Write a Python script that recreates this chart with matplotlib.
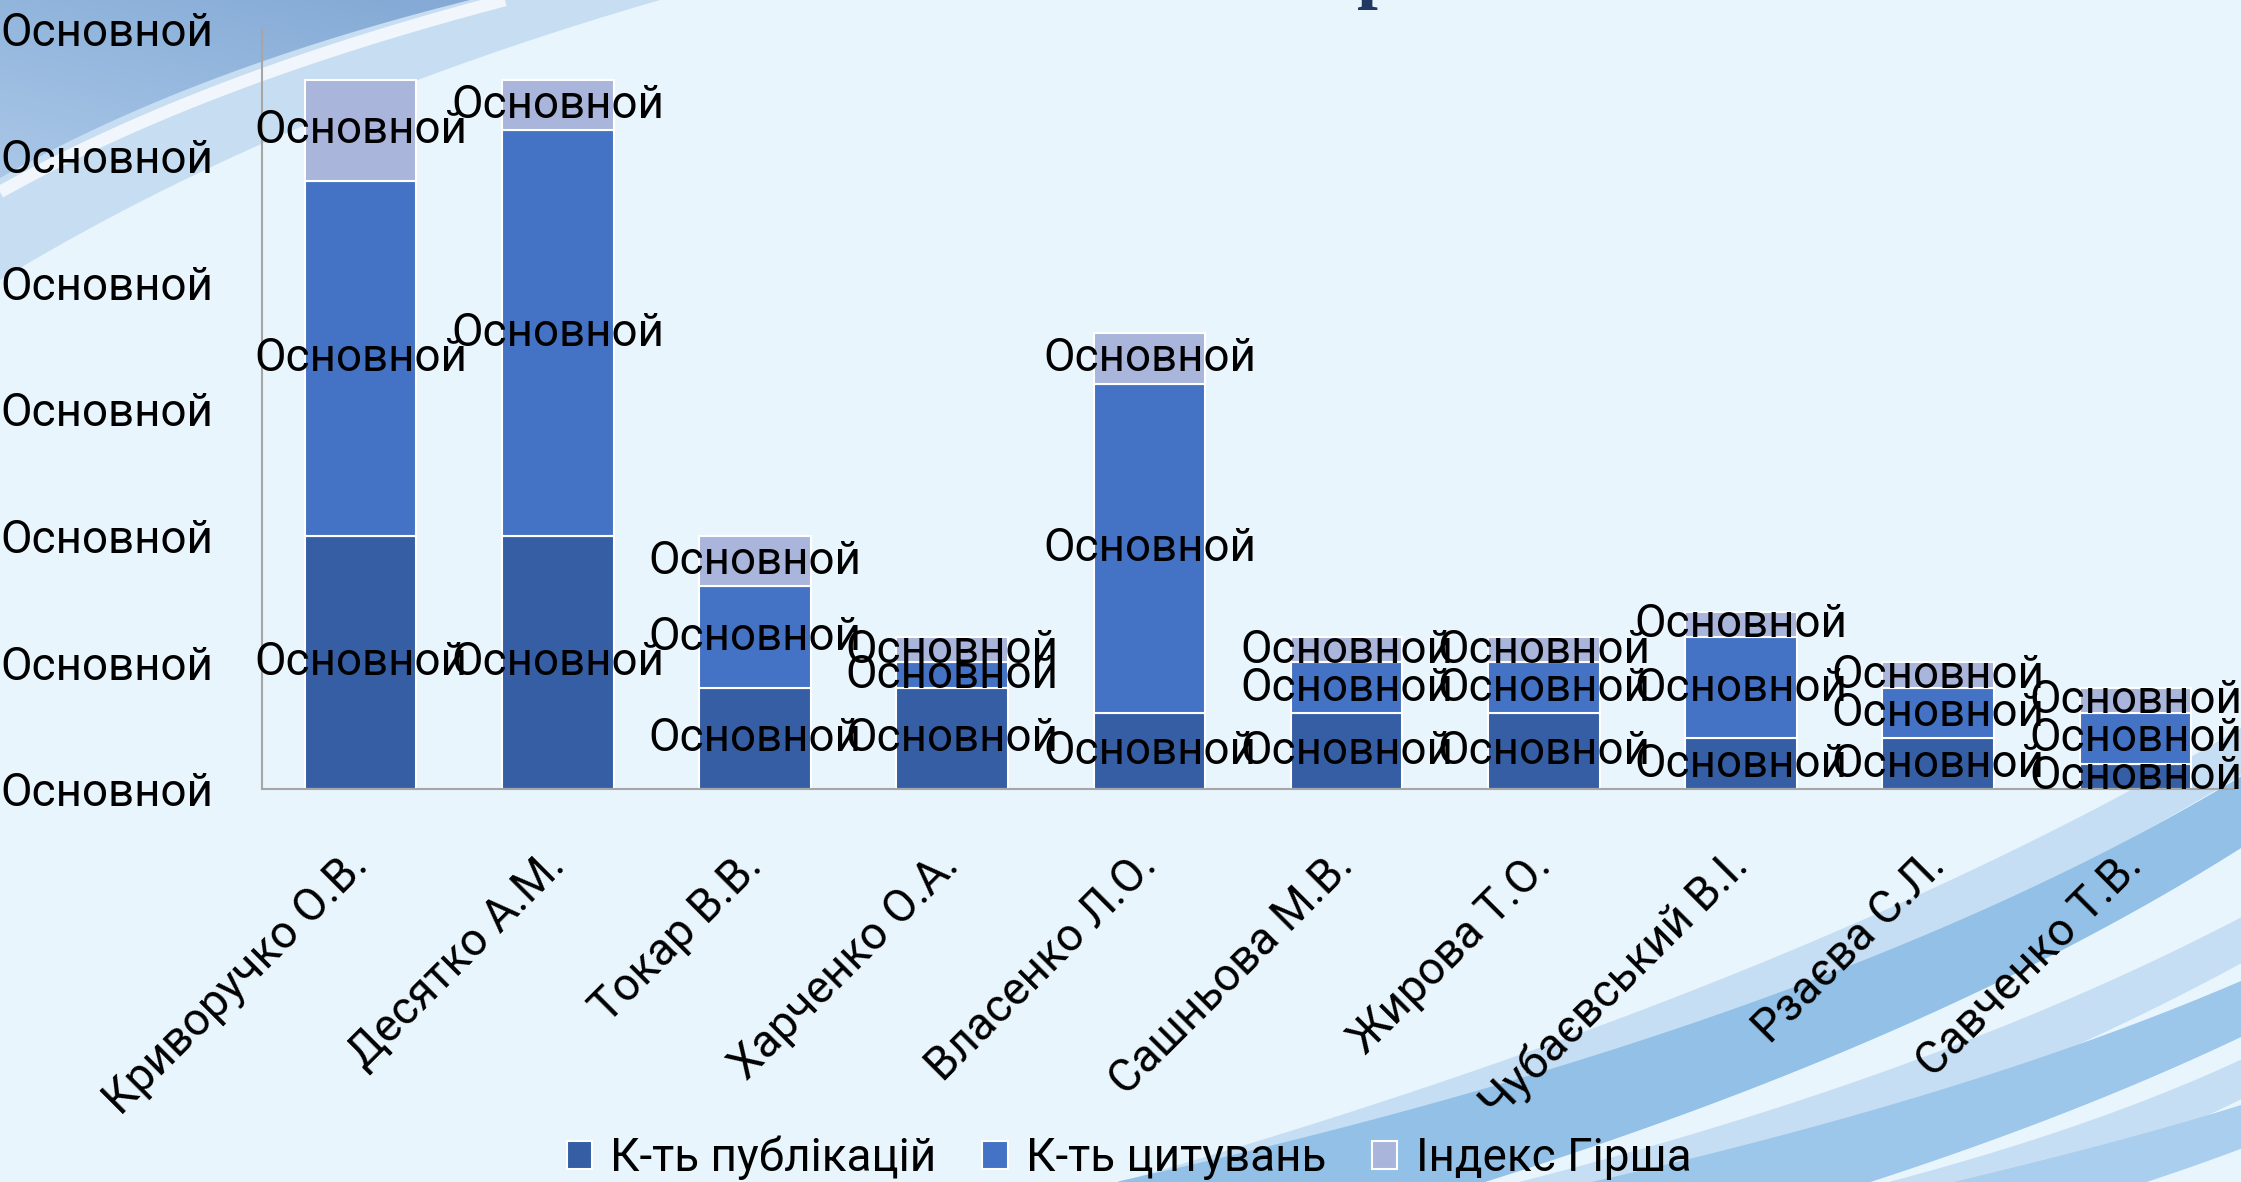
import numpy as np
import matplotlib.pyplot as plt
from matplotlib.patches import Polygon
from matplotlib.colors import LinearSegmentedColormap

# data (y axis 0..60)
names = ['Криворучко О.В.', 'Десятко А.М.', 'Токар В.В.', 'Харченко О.А.',
         'Власенко Л.О.', 'Сашньова М.В.', 'Жирова Т.О.', 'Чубаєвський В.І.',
         'Рзаєва С.Л.', 'Савченко Т.В.']
publications = [20, 20, 8, 8, 6, 6, 6, 4, 4, 2]
citations = [28, 32, 8, 2, 26, 4, 4, 8, 4, 4]
hirsch = [8, 4, 4, 2, 4, 2, 2, 2, 2, 2]
series_names = ['К-ть публікацій', 'К-ть цитувань', 'Індекс Гірша']
series_colors = ['#365EA5', '#4472C4', '#A9B5DA']
y_ticks = [0, 10, 20, 30, 40, 50, 60]
label_text = 'Основной'

W, H = 2241, 1182
BG = '#E8F5FD'
FS = 33

plt.rcParams['font.family'] = ['Roboto', 'DejaVu Sans']


def bezier(p0, p1, p2, n=200):
    t = np.linspace(0, 1, n)[:, None]
    p0, p1, p2 = np.array(p0), np.array(p1), np.array(p2)
    return (1 - t) ** 2 * p0 + 2 * (1 - t) * t * p1 + t ** 2 * p2


def band(ax, p0, p1, p2, w0, w1, color, alpha=1.0):
    c = bezier(p0, p1, p2)
    d = np.gradient(c, axis=0)
    nrm = np.stack([-d[:, 1], d[:, 0]], axis=1)
    nrm /= np.linalg.norm(nrm, axis=1)[:, None]
    w = np.linspace(w0, w1, len(c))[:, None] / 2
    poly = np.vstack([c + nrm * w, (c - nrm * w)[::-1]])
    ax.add_patch(Polygon(poly, closed=True, fc=color, ec='none', alpha=alpha))


fig = plt.figure(figsize=(W / 100, H / 100), dpi=100)
fig.patch.set_facecolor(BG)

# background decoration (pixel coords)
bg = fig.add_axes([0, 0, 1, 1], zorder=-5)
bg.axis('off')

# top-left swoosh
light = np.vstack([[[0, 0]], bezier((660, 0), (280, 110), (0, 280))])
bg.add_patch(Polygon(light, closed=True, fc='#C6DDF2', ec='none', zorder=1))
bg.plot(*bezier((505, 0), (200, 80), (0, 192)).T, color='white', lw=9,
        alpha=0.75, zorder=2, solid_capstyle='butt')
dark = np.vstack([[[0, 0]], bezier((470, 0), (190, 70), (0, 178))])
dark_patch = Polygon(dark, closed=True, fc='none', ec='none', zorder=3)
bg.add_patch(dark_patch)
cmap = LinearSegmentedColormap.from_list('tl', ['#84AAD5', '#97B9DF', '#AAC7E7'])
xx, yy = np.meshgrid(np.linspace(0, 470, 200), np.linspace(0, 180, 200))
img = bg.imshow(yy / 180 - xx / 700, cmap=cmap, extent=(0, 470, 180, 0),
                aspect='auto', zorder=3, vmin=-0.6, vmax=1.0)
img.set_clip_path(dark_patch)
bg.set_xlim(0, W)
bg.set_ylim(H, 0)

# bottom-right swooshes
band(bg, (1060, 1230), (1800, 1020), (2260, 740), 60, 40, '#C6DEF3')
band(bg, (1130, 1230), (1850, 1060), (2260, 800), 100, 60, '#93C0E6')
band(bg, (1450, 1230), (1930, 1110), (2260, 930), 60, 40, '#C6DEF3')
band(bg, (1560, 1230), (1980, 1130), (2260, 1000), 80, 50, '#9CC6EA')
band(bg, (1800, 1230), (2080, 1160), (2260, 1070), 50, 35, '#C6DEF3')
band(bg, (1880, 1230), (2120, 1170), (2260, 1120), 60, 40, '#A9CEEE')

# cropped title fragment at the top
fig.text(1378 / W, 1 + 6 / H, 'р', fontsize=54, fontweight='bold',
         family='Liberation Serif', color='#1F3864', ha='center', va='baseline')

ax = fig.add_axes([262 / W, (H - 789) / H, (2234 - 262) / W, (789 - 29) / H])
ax.set_facecolor('none')

x = np.arange(len(names))
bottom = np.zeros(len(names))
for vals, name, col in zip([publications, citations, hirsch], series_names, series_colors):
    vals = np.array(vals, dtype=float)
    ax.bar(x, vals, 0.565, bottom=bottom, color=col, edgecolor='white',
           linewidth=1.5, label=name)
    for xi, b, v in zip(x, bottom, vals):
        ax.text(xi, b + v / 2, label_text, ha='center', va='center',
                fontsize=FS, color='black')
    bottom += vals

ax.set_xlim(-0.5, len(names) - 0.5)
ax.set_ylim(0, 60)
ax.set_yticks(y_ticks)
ax.set_yticklabels([label_text] * len(y_ticks), fontsize=FS)
ax.set_xticks(x)
ax.set_xticklabels(names, fontsize=FS, rotation=45, ha='right', va='center',
                   rotation_mode='anchor')
ax.tick_params(axis='y', length=0, pad=35)
ax.tick_params(axis='x', length=0, pad=50)
for s in ['top', 'right']:
    ax.spines[s].set_visible(False)
for s in ['left', 'bottom']:
    ax.spines[s].set_color('#A6A6A6')
    ax.spines[s].set_linewidth(1.5)

fig.legend(loc='center', bbox_to_anchor=(1129 / W, 1 - 1158 / H), ncol=3,
           frameon=False, fontsize=FS, handlelength=0.55, handleheight=0.55,
           handletextpad=0.4, columnspacing=1.0)

fig.savefig('out.png', dpi=100, facecolor=BG)
